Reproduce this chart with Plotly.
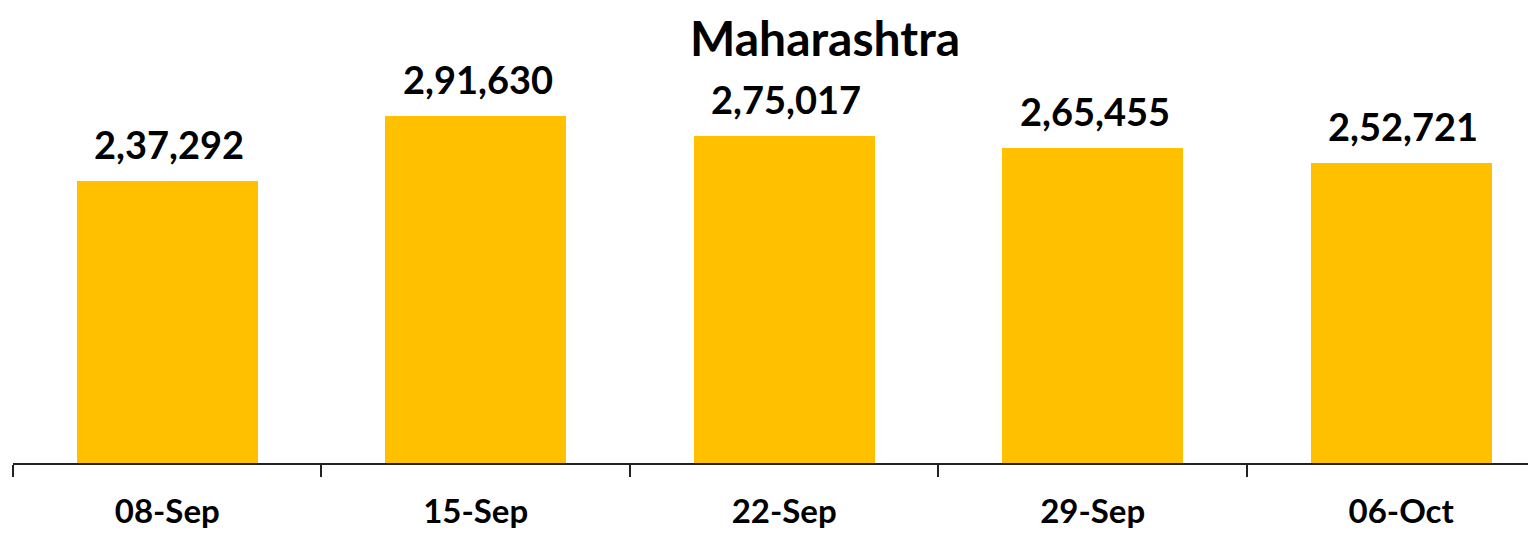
import plotly.graph_objects as go

categories = ["08-Sep", "15-Sep", "22-Sep", "29-Sep", "06-Oct"]
values = [237292, 291630, 275017, 265455, 252721]
labels = ["2,37,292", "2,91,630", "2,75,017", "2,65,455", "2,52,721"]
title_text = "Maharashtra"

FONT = "Lato"
# page has an 8px body margin, so the figure is sized/placed to compensate
W, H = 1528, 526
ML, MR, MT, MB = 5, 0, 0, 71

fig = go.Figure()
fig.add_trace(go.Bar(
    x=categories, y=values, width=0.587,
    marker=dict(color="#FFC000", line=dict(width=0)),
    hoverinfo="skip",
))

for c, v, t in zip(categories, values, labels):
    fig.add_annotation(x=c, y=v, text="<b>%s</b>" % t, showarrow=False,
                       yanchor="bottom", yshift=12, xshift=2,
                       font=dict(family=FONT, size=38, color="#000000"))

fig.add_annotation(x=(817 - ML) / (W - ML - MR), y=1, yshift=0,
                   xref="paper", yref="paper", text="<b>%s</b>" % title_text,
                   showarrow=False, xanchor="center", yanchor="top",
                   borderpad=0,
                   font=dict(family=FONT, size=48, color="#000000"))

fig.update_layout(
    width=W, height=H,
    margin=dict(l=ML, r=MR, t=MT, b=MB),
    plot_bgcolor="white", paper_bgcolor="white",
    showlegend=False,
    bargap=0,
    xaxis=dict(
        type="category", range=[-0.5, 4.437],
        tickson="boundaries", ticks="outside", ticklen=12, tickwidth=2,
        tickcolor="#222222", showline=True, linecolor="#222222", linewidth=2,
        showgrid=False, zeroline=False,
        ticklabelstandoff=18,
        tickfont=dict(family=FONT, size=33, color="#000000"),
        tickprefix="<b>", ticksuffix="</b>",
    ),
    yaxis=dict(range=[0, 382870], visible=False, showgrid=False, zeroline=False),
)

fig.write_html("out.html")
